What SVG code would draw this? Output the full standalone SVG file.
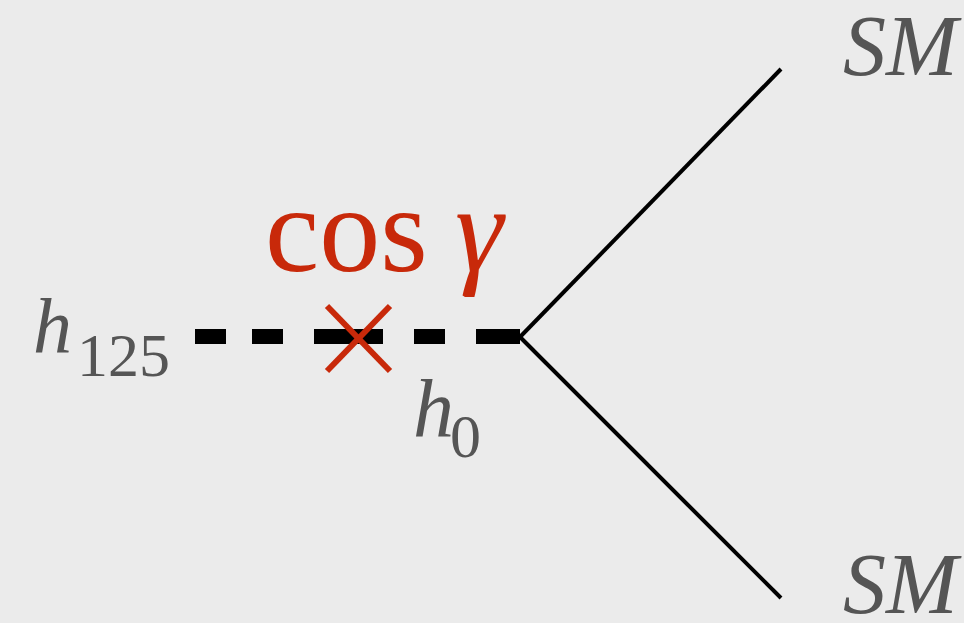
<svg xmlns="http://www.w3.org/2000/svg" width="964" height="623" viewBox="0 0 964 623">
<style>
.lbl{fill:#555555;font-style:italic}
.num{fill:#555555}
.red{fill:#c8290a}
</style>
<rect width="964" height="623" fill="#ebebeb"/>
<g id="connectors">
<g id="propagator" fill="#000">
<rect x="195" y="329" width="31" height="15"/>
<rect x="252" y="329" width="31" height="15"/>
<rect x="314" y="329" width="69" height="15"/>
<rect x="414" y="329" width="31" height="15"/>
<rect x="476" y="329" width="44" height="15"/>
</g>
<line x1="520" y1="337" x2="781" y2="69" stroke="#000" stroke-width="4"/>
<line x1="520" y1="337" x2="781" y2="598" stroke="#000" stroke-width="4"/>
</g>
<g id="mixing">
<line x1="327" y1="306" x2="390" y2="371" stroke="#c8290a" stroke-width="6"/>
<line x1="390" y1="306" x2="327" y2="371" stroke="#c8290a" stroke-width="6"/>
<text class="red" font-family="Liberation Serif" font-size="40" transform="translate(265,271) scale(3.05)">cos</text>
<text class="red" font-family="Liberation Serif" font-style="italic" font-size="40" transform="translate(455,271) scale(3.05)">&#947;</text>
</g>
<g id="h125">
<text class="lbl" font-family="Liberation Serif" font-size="40" transform="translate(33,353) scale(1.95)">h</text>
<text class="num" font-family="Liberation Serif" font-size="40" transform="translate(77,376) scale(1.55)">125</text>
</g>
<g id="h0">
<text class="lbl" font-family="Liberation Serif" font-size="40" transform="translate(413,436) scale(2.05)">h</text>
<text class="num" font-family="Liberation Serif" font-size="40" transform="translate(450,457) scale(1.55)">0</text>
</g>
<g id="sm-top"><text class="lbl" font-family="Liberation Serif" font-size="40" transform="translate(843,75) scale(2.15)">SM</text></g>
<g id="sm-bottom"><text class="lbl" font-family="Liberation Serif" font-size="40" transform="translate(843,613) scale(2.15)">SM</text></g>
</svg>
